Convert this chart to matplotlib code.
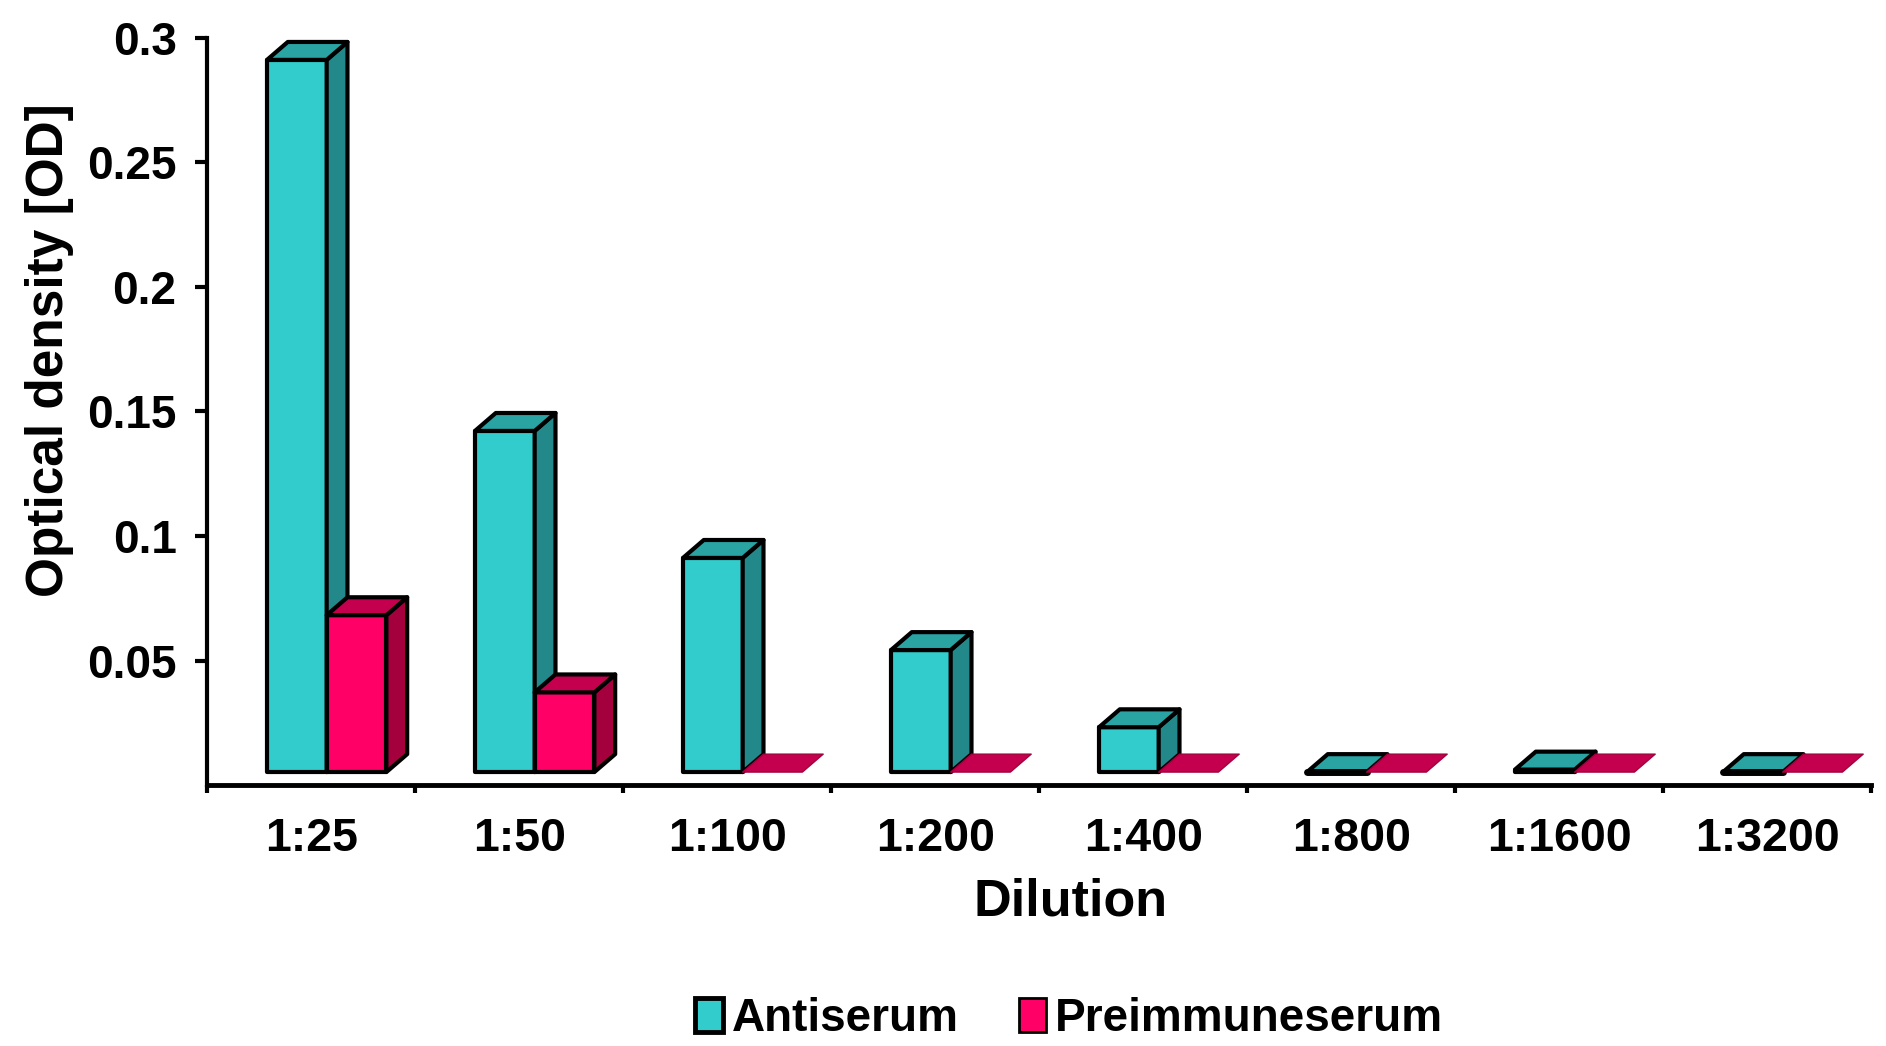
import numpy as np
import matplotlib
matplotlib.use('Agg')
import matplotlib.pyplot as plt
from matplotlib.patches import Polygon, Patch

plt.rcParams['font.family'] = ['Liberation Sans', 'DejaVu Sans']
plt.rcParams['font.weight'] = 'bold'

dilutions = ['1:25', '1:50', '1:100', '1:200', '1:400', '1:800', '1:1600', '1:3200']
# bar heights (OD) above the floor of the 3D plot
antiserum = [0.286, 0.137, 0.086, 0.049, 0.018, 0.0, 0.001, 0.0]
preimmune = [0.063, 0.032, 0.0, 0.0, 0.0, 0.0, 0.0, 0.0]

# colours: front, side, top
cyan = ('#33CCCC', '#22888A', '#2AA3A3')
pink = ('#FF0066', '#A3003D', '#C4004E')

floor = 0.0052      # bars sit a bit above the axis line
dx, dy = 0.10, 0.0072   # depth offset (x in category units, y in OD)
w = 0.287
x0 = -0.212
lw = 3.0

fig = plt.figure(figsize=(18.86, 10.46), dpi=100)
ax = fig.add_axes([0.1098, 0.2495, 0.8823, 0.7142])

x = np.arange(len(dilutions))


def draw_3d(xs, vals, cols, z, zero_edge):
    for xi, v in zip(xs, vals):
        left, right = xi, xi + w
        top = floor + v
        black = v > 0 or zero_edge
        if v > 0:
            ax.bar(left + w / 2, v, width=w, bottom=floor, color=cols[0],
                   edgecolor='black', linewidth=lw, zorder=z, clip_on=False,
                   joinstyle='round')
            side = Polygon([(right, floor), (right + dx, floor + dy),
                            (right + dx, top + dy), (right, top)],
                           closed=True, facecolor=cols[1], edgecolor='black',
                           linewidth=lw, zorder=z, clip_on=False,
                           joinstyle='round')
            ax.add_patch(side)
        topf = Polygon([(left, top), (left + dx, top + dy),
                        (right + dx, top + dy), (right, top)],
                       closed=True, facecolor=cols[2],
                       edgecolor='black' if black else cols[1],
                       linewidth=lw if black else 1.0,
                       zorder=z + 0.1, clip_on=False, joinstyle='round')
        ax.add_patch(topf)
        if v == 0 and zero_edge:
            ax.plot([left, right], [floor, floor], color='black', lw=5,
                    zorder=z + 0.2, clip_on=False, solid_capstyle='round')


draw_3d(x + x0, antiserum, cyan, 2, True)
draw_3d(x + x0 + w, preimmune, pink, 3, False)

ax.set_xlim(-0.5, len(dilutions) - 0.5)
ax.set_ylim(0, 0.3)

for side in ['top', 'right']:
    ax.spines[side].set_visible(False)
ax.spines['left'].set_linewidth(3)
ax.spines['bottom'].set_linewidth(3.5)
ax.spines['left'].set_bounds(0, 0.3)

ax.set_yticks([0.05, 0.1, 0.15, 0.2, 0.25, 0.3])
ax.set_yticklabels(['0.05', '0.1', '0.15', '0.2', '0.25', '0.3'])
ax.tick_params(axis='y', direction='out', length=9, width=3, pad=13,
               labelsize=33)

ax.set_xticks(np.arange(-0.5, len(dilutions)), minor=False)
ax.set_xticklabels([])
ax.tick_params(axis='x', which='major', direction='out', length=6, width=3)
ax.set_xticks(x, minor=True)
ax.set_xticklabels(dilutions, minor=True)
ax.tick_params(axis='x', which='minor', length=0, pad=23, labelsize=33.5)

ax.text(-0.0944, 0.582, 'Optical density [OD]', transform=ax.transAxes,
        rotation=90, ha='center', va='center', fontsize=37, fontweight='bold')
ax.text(0.519, -0.157, 'Dilution', transform=ax.transAxes,
        ha='center', va='center', fontsize=37.5, fontweight='bold')

handles = [Patch(facecolor=cyan[0], edgecolor='black', linewidth=3.5),
           Patch(facecolor=pink[0], edgecolor='black', linewidth=2)]
fig.legend(handles, ['Antiserum', 'Preimmuneserum'], loc='center',
           bbox_to_anchor=(0.567, 0.026), ncol=2, frameon=False, fontsize=33,
           handlelength=0.6, handleheight=0.75, handletextpad=0.2,
           columnspacing=1.3)

fig.savefig('out.png', dpi=100)
